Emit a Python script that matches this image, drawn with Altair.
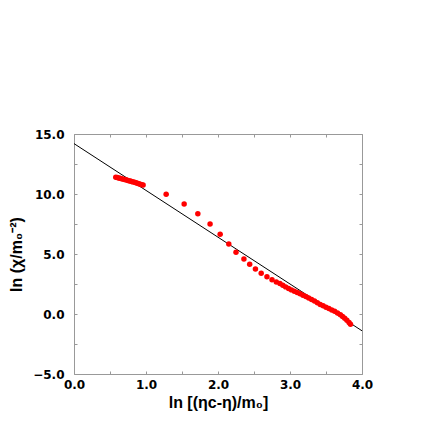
import altair as alt
import pandas as pd

# data points
x_pts = [0.58, 0.60, 0.62, 0.64, 0.66, 0.68, 0.70, 0.72, 0.74, 0.76, 0.78, 0.80,
         0.82, 0.84, 0.86, 0.88, 0.90, 0.92, 0.94, 0.96,
         1.28, 1.53, 1.72, 1.89, 2.03, 2.15, 2.25, 2.36, 2.44, 2.52, 2.60, 2.68,
         2.75, 2.81,
         2.86, 2.90, 2.94, 2.98, 3.02, 3.06, 3.10, 3.14, 3.18, 3.22, 3.26, 3.30,
         3.34, 3.38, 3.42, 3.46, 3.50, 3.54, 3.58, 3.62, 3.66, 3.70, 3.73, 3.76,
         3.79, 3.82, 3.84]
y_pts = [11.40, 11.37, 11.34, 11.31, 11.27, 11.24, 11.21, 11.18, 11.14, 11.11, 11.08, 11.05,
         11.01, 10.98, 10.94, 10.90, 10.86, 10.82, 10.78, 10.75,
         9.98, 9.17, 8.36, 7.50, 6.64, 5.83, 5.14, 4.58, 4.14, 3.75, 3.39, 3.11,
         2.86, 2.66,
         2.55, 2.40, 2.26, 2.13, 2.01, 1.90, 1.79, 1.68, 1.56, 1.45, 1.33, 1.21,
         1.08, 0.93, 0.80, 0.68, 0.57, 0.46, 0.34, 0.22, 0.08, -0.07, -0.20, -0.35,
         -0.52, -0.70, -0.86]

# fitted straight line (two end points)
x_fit = [0.0, 4.0]
y_fit = [14.2, -1.4]

x_ticks = [0.0, 0.5, 1.0, 1.5, 2.0, 2.5, 3.0, 3.5, 4.0]
y_ticks = [-5.0, -2.5, 0.0, 2.5, 5.0, 7.5, 10.0, 12.5, 15.0]

pts = pd.DataFrame({"x": x_pts, "y": y_pts})
fit = pd.DataFrame({"x": x_fit, "y": y_fit})

xs = alt.Scale(domain=[0, 4], nice=False, zero=False)
ys = alt.Scale(domain=[-5, 15], nice=False, zero=False)

lab_font = "DejaVu Sans"
tit_font = "Liberation Sans"
gray = "#999999"

x_bottom = alt.Axis(values=x_ticks, orient="bottom", offset=-3, tickSize=3, domain=False,
                    grid=False, tickColor=gray, labelFlush=False, labelOverlap=False,
                    labelExpr="datum.value % 1 === 0 ? format(datum.value, '.1f') : ''",
                    labelFont=lab_font, labelFontSize=12, labelFontWeight="bold",
                    labelColor="black", labelPadding=5,
                    title="ln [(ηc-η)/m₀]", titleFont=tit_font, titleFontSize=16,
                    titleFontWeight="bold", titleColor="black", titlePadding=4)
y_left = alt.Axis(values=y_ticks, orient="left", offset=-3, tickSize=3, domain=False,
                  grid=False, tickColor=gray, labelFlush=False, labelOverlap=False,
                  labelExpr="datum.value % 5 === 0 ? format(datum.value, '.1f') : ''",
                  labelFont=lab_font, labelFontSize=12, labelFontWeight="bold",
                  labelColor="black", labelPadding=10,
                  title="ln (χ/m₀⁻²)", titleFont=tit_font, titleFontSize=16,
                  titleFontWeight="bold", titleColor="black", titlePadding=8)
x_top = alt.Axis(values=x_ticks, orient="top", offset=-3, tickSize=3, domain=False,
                 grid=False, tickColor=gray, labels=False, title=None)
y_right = alt.Axis(values=y_ticks, orient="right", offset=-3, tickSize=3, domain=False,
                   grid=False, tickColor=gray, labels=False, title=None)

points = alt.Chart(pts).mark_circle(size=30, color="#ff0000", opacity=1).encode(
    x=alt.X("x:Q", scale=xs, axis=x_bottom),
    y=alt.Y("y:Q", scale=ys, axis=y_left),
)
line = alt.Chart(fit).mark_line(color="black", strokeWidth=1, clip=True).encode(
    x=alt.X("x:Q", scale=xs, axis=x_top),
    y=alt.Y("y:Q", scale=ys, axis=y_right),
)

chart = alt.layer(line, points).resolve_axis(x="independent", y="independent").properties(
    width=288, height=240,
    autosize=alt.AutoSizeParams(type="none"),
    padding={"left": 66, "top": 126, "right": 20, "bottom": 40},
).configure_view(stroke=gray, strokeWidth=1)

chart.save("out.html", embed_options={"renderer": "svg", "actions": False})
